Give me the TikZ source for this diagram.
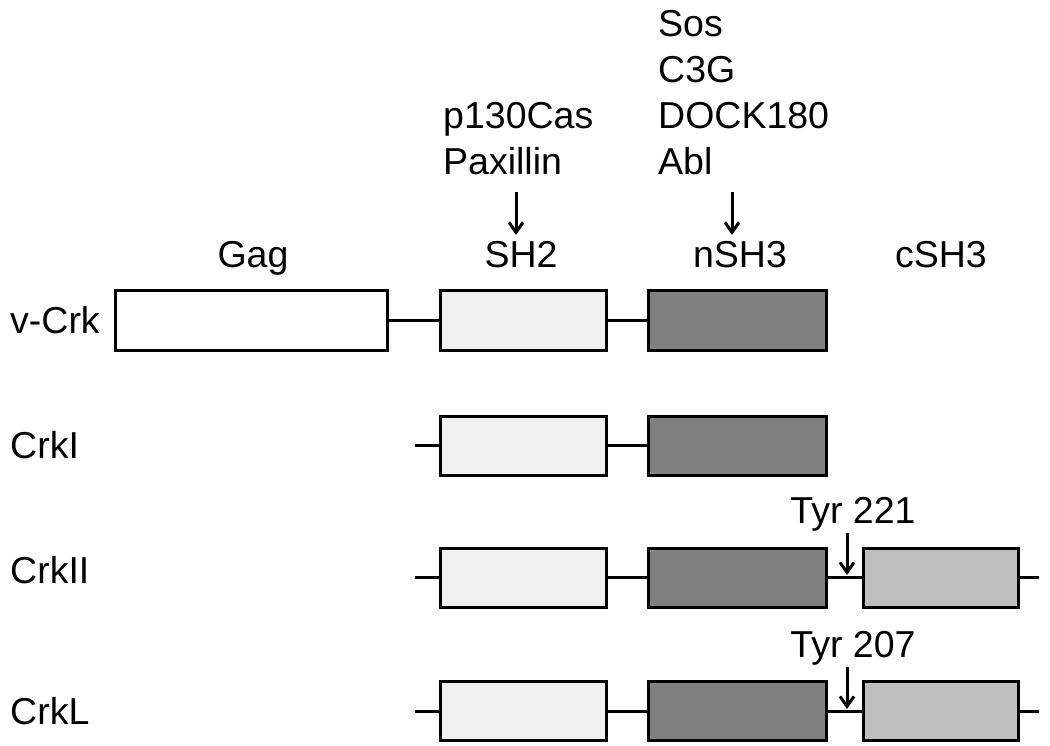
\documentclass[tikz,border=0pt]{standalone}
\usepackage{fontspec}
\setmainfont{Liberation Sans}
\usetikzlibrary{arrows.meta}
\begin{document}
\begin{tikzpicture}[x=1pt,y=-1pt,
  lbl/.style={inner sep=0pt, font=\fontsize{37.5}{44}\selectfont},
  box/.style={draw=black, line width=3pt, rectangle, inner sep=0pt, minimum height=59pt},
  gagbox/.style={box, fill=white, minimum width=272pt},
  shtwo/.style={box, fill=black!6, minimum width=166pt},
  nshthree/.style={box, fill=black!50, minimum width=178pt},
  cshthree/.style={box, fill=black!25, minimum width=155pt},
  link/.style={line width=3pt},
  arr/.style={line width=3pt, -{Straight Barb[length=10pt,width=14pt,line width=3pt]}}
]
\useasboundingbox (0,0) rectangle (1050,746);

% top interaction labels
\node[lbl, anchor=base west] (sos) at (658,37) {Sos};
\node[lbl, anchor=base west] (c3g) at (658,83) {C3G};
\node[lbl, anchor=base west] (dock) at (658,129) {DOCK180};
\node[lbl, anchor=base west] (abl) at (658,175) {Abl};
\node[lbl, anchor=base west] (cas) at (443,129) {p130Cas};
\node[lbl, anchor=base west] (pax) at (443,175) {Paxillin};

% domain labels
\node[lbl, anchor=base] (gaglbl) at (253,268) {Gag};
\node[lbl, anchor=base] (shlbl) at (521,268) {SH2};
\node[lbl, anchor=base] (nshlbl) at (740,268) {nSH3};
\node[lbl, anchor=base] (cshlbl) at (941,268) {cSH3};

\coordinate (a1s) at (516,192);
\coordinate (a1e) at (516,235);
\coordinate (a2s) at (732,192);
\coordinate (a2e) at (732,235);
\draw[arr] (a1s) -- (a1e);
\draw[arr] (a2s) -- (a2e);

% row labels
\node[lbl, anchor=base west] (vcrk) at (10,333) {v-Crk};
\node[lbl, anchor=base west] (crki) at (10,458) {CrkI};
\node[lbl, anchor=base west] (crkii) at (10,583) {CrkII};
\node[lbl, anchor=base west] (crkl) at (10,724) {CrkL};

% v-Crk
\node[gagbox] (vgag) at (251,320.5) {};
\node[shtwo] (vsh2) at (523,320.5) {};
\node[nshthree] (vnsh3) at (737,320.5) {};
\draw[link] (vgag.east) -- (vsh2.west);
\draw[link] (vsh2.east) -- (vnsh3.west);

% CrkI
\coordinate (ist) at (415,445.5);
\node[shtwo] (ish2) at (523,445.5) {};
\node[nshthree] (insh3) at (737,445.5) {};
\draw[link] (ist) -- (ish2.west);
\draw[link] (ish2.east) -- (insh3.west);

% CrkII
\coordinate (iist) at (415,577.5);
\node[shtwo] (iish2) at (523,577.5) {};
\node[nshthree] (iinsh3) at (737,577.5) {};
\node[cshthree] (iicsh3) at (940.5,577.5) {};
\coordinate (iien) at (1039,577.5);
\draw[link] (iist) -- (iish2.west);
\draw[link] (iish2.east) -- (iinsh3.west);
\draw[link] (iinsh3.east) -- (iicsh3.west);
\draw[link] (iicsh3.east) -- (iien);
\node[lbl, anchor=base] (tyr221) at (853,523) {Tyr 221};
\coordinate (t1s) at (847,533);
\coordinate (t1e) at (847,575);
\draw[arr] (t1s) -- (t1e);

% CrkL
\coordinate (lst) at (415,711);
\node[shtwo] (lsh2) at (523,711) {};
\node[nshthree] (lnsh3) at (737,711) {};
\node[cshthree] (lcsh3) at (940.5,711) {};
\coordinate (len) at (1039,711);
\draw[link] (lst) -- (lsh2.west);
\draw[link] (lsh2.east) -- (lnsh3.west);
\draw[link] (lnsh3.east) -- (lcsh3.west);
\draw[link] (lcsh3.east) -- (len);
\node[lbl, anchor=base] (tyr207) at (853,657) {Tyr 207};
\coordinate (t2s) at (847,667);
\coordinate (t2e) at (847,709);
\draw[arr] (t2s) -- (t2e);
\end{tikzpicture}
\end{document}
